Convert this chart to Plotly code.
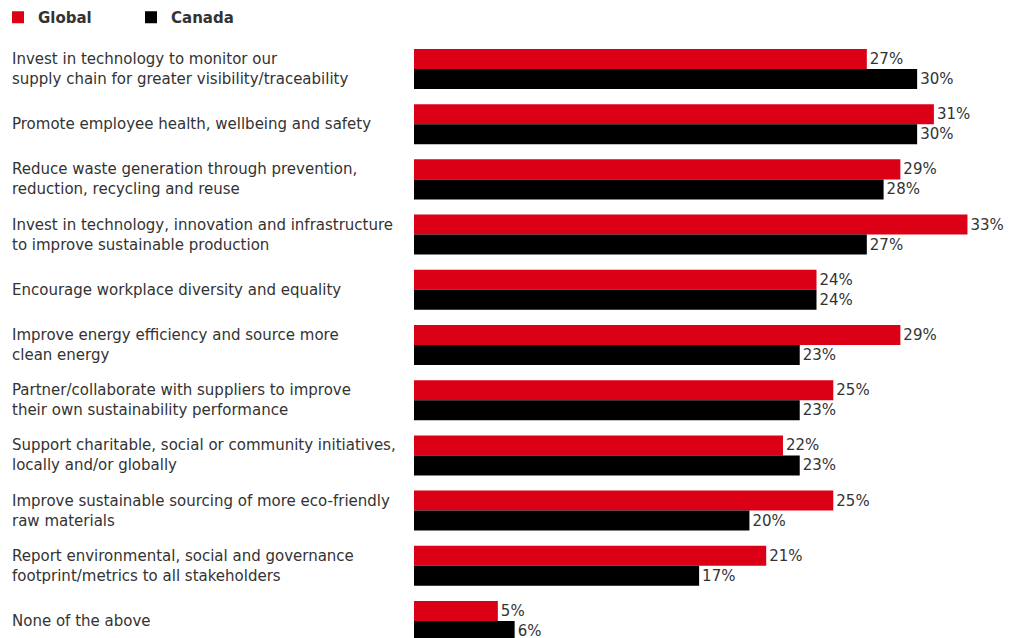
import plotly.graph_objects as go

categories = [
    "Invest in technology to monitor our<br>supply chain for greater visibility/traceability",
    "Promote employee health, wellbeing and safety",
    "Reduce waste generation through prevention,<br>reduction, recycling and reuse",
    "Invest in technology, innovation and infrastructure<br>to improve sustainable production",
    "Encourage workplace diversity and equality",
    "Improve energy efficiency and source more<br>clean energy",
    "Partner/collaborate with suppliers to improve<br>their own sustainability performance",
    "Support charitable, social or community initiatives,<br>locally and/or globally",
    "Improve sustainable sourcing of more eco-friendly<br>raw materials",
    "Report environmental, social and governance<br>footprint/metrics to all stakeholders",
    "None of the above",
]
global_vals = [27, 31, 29, 33, 24, 29, 25, 22, 25, 21, 5]
canada_vals = [30, 30, 28, 27, 24, 23, 23, 23, 20, 17, 6]

RED = "#DC0016"
BLACK = "#000000"
TEXT = "#333333"
FONT = "DejaVu Sans, Arial, sans-serif"

# the page body adds an 8px margin on every side
W, H = 1005, 630
L, R, T, B = 406, 12, 32, 0
plot_w = W - L - R
plot_h = H - T - B

fig = go.Figure()
fig.add_trace(go.Bar(
    name="<b>Global</b>", y=categories, x=global_vals, orientation="h",
    marker=dict(color=RED, line=dict(width=0)),
    text=[f"{v}%" for v in global_vals], textposition="outside",
    textfont=dict(size=15, color=TEXT, family=FONT), cliponaxis=False,
))
fig.add_trace(go.Bar(
    name="<b>Canada</b>", y=categories, x=canada_vals, orientation="h",
    marker=dict(color=BLACK, line=dict(width=0)),
    text=[f"{v}%" for v in canada_vals], textposition="outside",
    textfont=dict(size=15, color=TEXT, family=FONT), cliponaxis=False,
))

for c in categories:
    fig.add_annotation(
        x=(2 - L) / plot_w, xref="paper", xanchor="left",
        y=c, yref="y", yanchor="middle",
        text=c, showarrow=False, align="left",
        font=dict(size=15, color=TEXT, family=FONT),
    )

fig.update_layout(
    width=W, height=H,
    margin=dict(l=L, r=R, t=T, b=B, pad=0, autoexpand=False),
    barmode="group", bargap=0.275, bargroupgap=0,
    plot_bgcolor="white", paper_bgcolor="rgba(0,0,0,0)",
    font=dict(family=FONT, color=TEXT, size=15),
    legend=dict(
        orientation="h", x=(-10 - L) / plot_w, xanchor="left",
        y=1 + (T + 7) / plot_h, yanchor="top",
        font=dict(size=15, color=TEXT, family=FONT),
        bgcolor="rgba(0,0,0,0)",
        entrywidth=88, entrywidthmode="pixels",
        itemclick=False, itemdoubleclick=False,
        traceorder="normal",
    ),
    showlegend=True,
)
fig.update_xaxes(range=[0, 35], visible=False, showgrid=False, zeroline=False)
fig.update_yaxes(
    type="category", categoryorder="array", categoryarray=categories,
    range=[10.308, -0.525], showticklabels=False, showgrid=False,
    zeroline=False, showline=False, ticks="",
)

fig.write_html("out.html")
